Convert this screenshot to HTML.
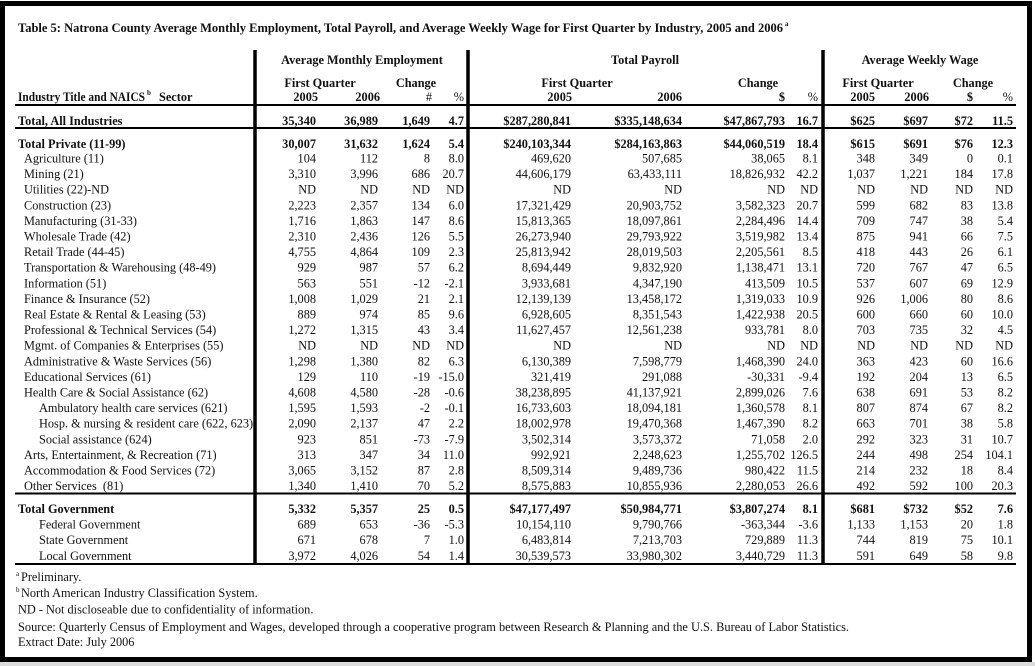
<!DOCTYPE html>
<html><head><meta charset="utf-8"><style>
html,body{margin:0;padding:0;background:#fff;}
svg{display:block;}
text{font-family:"Liberation Serif",serif;font-size:12.3px;fill:#111;}
.b text,.b{font-weight:bold;}
.e{text-anchor:end;}
.m{text-anchor:middle;}
</style></head><body>
<svg width="1035" height="666" viewBox="0 0 1035 666" xmlns="http://www.w3.org/2000/svg">
<rect x="0" y="0" width="1035" height="666" fill="#fff"/>
<rect x="0" y="662" width="1035" height="4" fill="#dcdcdc"/>
<rect x="2.5" y="3.5" width="1027" height="656" fill="none" stroke="#000" stroke-width="5"/>

<text x="18" y="32" font-weight="bold" textLength="765" lengthAdjust="spacingAndGlyphs">Table 5: Natrona County Average Monthly Employment, Total Payroll, and Average Weekly Wage for First Quarter by Industry, 2005 and 2006</text>
<text x="785" y="26" font-weight="bold" style="font-size:7px">a</text>

<!-- lines -->
<g stroke="#000">
<line x1="15" y1="105" x2="1016" y2="105" stroke-width="2"/>
<line x1="15" y1="128" x2="1016" y2="128" stroke-width="2"/>
<line x1="15" y1="493.5" x2="1016" y2="493.5" stroke-width="2"/>
<line x1="15" y1="564" x2="1016" y2="564" stroke-width="2"/>
<line x1="255" y1="50" x2="255" y2="565" stroke-width="3.5"/>
<line x1="468" y1="50" x2="468" y2="565" stroke-width="3.5"/>
<line x1="823" y1="50" x2="823" y2="565" stroke-width="3.5"/>
</g>

<!-- headers -->
<g class="b">
<text x="362" y="64" class="m">Average Monthly Employment</text>
<text x="645" y="64" class="m">Total Payroll</text>
<text x="920" y="64" class="m">Average Weekly Wage</text>
<text x="320" y="87" class="m">First Quarter</text>
<text x="416" y="87" class="m">Change</text>
<text x="577" y="87" class="m">First Quarter</text>
<text x="758" y="87" class="m">Change</text>
<text x="878" y="87" class="m">First Quarter</text>
<text x="973" y="87" class="m">Change</text>
<text x="18" y="101" textLength="127" lengthAdjust="spacingAndGlyphs">Industry Title and NAICS</text>
<text x="147" y="95" style="font-size:7px">b</text>
<text x="159" y="101">Sector</text>
<text x="318" y="101" class="e">2005</text>
<text x="380" y="101" class="e">2006</text>
<text x="432" y="101" class="e" style="font-weight:normal">#</text>
<text x="464" y="101" class="e" style="font-weight:normal">%</text>
<text x="572" y="101" class="e">2005</text>
<text x="682" y="101" class="e">2006</text>
<text x="785" y="101" class="e">$</text>
<text x="818" y="101" class="e" style="font-weight:normal">%</text>
<text x="875" y="101" class="e">2005</text>
<text x="929" y="101" class="e">2006</text>
<text x="973" y="101" class="e">$</text>
<text x="1013" y="101" class="e" style="font-weight:normal">%</text>
</g>

<!-- Total all industries -->
<g class="b" transform="translate(0,125)">
<text x="18">Total, All Industries</text>
<text x="316" class="e">35,340</text><text x="378" class="e">36,989</text><text x="430" class="e">1,649</text><text x="464" class="e">4.7</text>
<text x="571" class="e">$287,280,841</text><text x="682" class="e">$335,148,634</text><text x="785" class="e">$47,867,793</text><text x="818" class="e">16.7</text>
<text x="875" class="e">$625</text><text x="928" class="e">$697</text><text x="973" class="e">$72</text><text x="1013" class="e">11.5</text>
</g>

<!-- Total private -->
<g class="b" transform="translate(0,148)">
<text x="18">Total Private (11-99)</text>
<text x="316" class="e">30,007</text><text x="378" class="e">31,632</text><text x="430" class="e">1,624</text><text x="464" class="e">5.4</text>
<text x="571" class="e">$240,103,344</text><text x="682" class="e">$284,163,863</text><text x="785" class="e">$44,060,519</text><text x="818" class="e">18.4</text>
<text x="875" class="e">$615</text><text x="928" class="e">$691</text><text x="973" class="e">$76</text><text x="1013" class="e">12.3</text>
</g>

<g transform="translate(0,162.5)"><text x="24">Agriculture (11)</text>
<text x="316" class="e">104</text><text x="378" class="e">112</text><text x="430" class="e">8</text><text x="464" class="e">8.0</text>
<text x="571" class="e">469,620</text><text x="682" class="e">507,685</text><text x="785" class="e">38,065</text><text x="818" class="e">8.1</text>
<text x="875" class="e">348</text><text x="928" class="e">349</text><text x="973" class="e">0</text><text x="1013" class="e">0.1</text></g>

<g transform="translate(0,178.1)"><text x="24">Mining (21)</text>
<text x="316" class="e">3,310</text><text x="378" class="e">3,996</text><text x="430" class="e">686</text><text x="464" class="e">20.7</text>
<text x="571" class="e">44,606,179</text><text x="682" class="e">63,433,111</text><text x="785" class="e">18,826,932</text><text x="818" class="e">42.2</text>
<text x="875" class="e">1,037</text><text x="928" class="e">1,221</text><text x="973" class="e">184</text><text x="1013" class="e">17.8</text></g>

<g transform="translate(0,193.7)"><text x="24">Utilities (22)-ND</text>
<text x="316" class="e">ND</text><text x="378" class="e">ND</text><text x="430" class="e">ND</text><text x="464" class="e">ND</text>
<text x="571" class="e">ND</text><text x="682" class="e">ND</text><text x="785" class="e">ND</text><text x="818" class="e">ND</text>
<text x="875" class="e">ND</text><text x="928" class="e">ND</text><text x="973" class="e">ND</text><text x="1013" class="e">ND</text></g>

<g transform="translate(0,209.3)"><text x="24">Construction (23)</text>
<text x="316" class="e">2,223</text><text x="378" class="e">2,357</text><text x="430" class="e">134</text><text x="464" class="e">6.0</text>
<text x="571" class="e">17,321,429</text><text x="682" class="e">20,903,752</text><text x="785" class="e">3,582,323</text><text x="818" class="e">20.7</text>
<text x="875" class="e">599</text><text x="928" class="e">682</text><text x="973" class="e">83</text><text x="1013" class="e">13.8</text></g>

<g transform="translate(0,224.9)"><text x="24">Manufacturing (31-33)</text>
<text x="316" class="e">1,716</text><text x="378" class="e">1,863</text><text x="430" class="e">147</text><text x="464" class="e">8.6</text>
<text x="571" class="e">15,813,365</text><text x="682" class="e">18,097,861</text><text x="785" class="e">2,284,496</text><text x="818" class="e">14.4</text>
<text x="875" class="e">709</text><text x="928" class="e">747</text><text x="973" class="e">38</text><text x="1013" class="e">5.4</text></g>

<g transform="translate(0,240.5)"><text x="24">Wholesale Trade (42)</text>
<text x="316" class="e">2,310</text><text x="378" class="e">2,436</text><text x="430" class="e">126</text><text x="464" class="e">5.5</text>
<text x="571" class="e">26,273,940</text><text x="682" class="e">29,793,922</text><text x="785" class="e">3,519,982</text><text x="818" class="e">13.4</text>
<text x="875" class="e">875</text><text x="928" class="e">941</text><text x="973" class="e">66</text><text x="1013" class="e">7.5</text></g>

<g transform="translate(0,256.1)"><text x="24">Retail Trade (44-45)</text>
<text x="316" class="e">4,755</text><text x="378" class="e">4,864</text><text x="430" class="e">109</text><text x="464" class="e">2.3</text>
<text x="571" class="e">25,813,942</text><text x="682" class="e">28,019,503</text><text x="785" class="e">2,205,561</text><text x="818" class="e">8.5</text>
<text x="875" class="e">418</text><text x="928" class="e">443</text><text x="973" class="e">26</text><text x="1013" class="e">6.1</text></g>

<g transform="translate(0,271.7)"><text x="24">Transportation &amp; Warehousing (48-49)</text>
<text x="316" class="e">929</text><text x="378" class="e">987</text><text x="430" class="e">57</text><text x="464" class="e">6.2</text>
<text x="571" class="e">8,694,449</text><text x="682" class="e">9,832,920</text><text x="785" class="e">1,138,471</text><text x="818" class="e">13.1</text>
<text x="875" class="e">720</text><text x="928" class="e">767</text><text x="973" class="e">47</text><text x="1013" class="e">6.5</text></g>

<g transform="translate(0,287.3)"><text x="24">Information (51)</text>
<text x="316" class="e">563</text><text x="378" class="e">551</text><text x="430" class="e">-12</text><text x="464" class="e">-2.1</text>
<text x="571" class="e">3,933,681</text><text x="682" class="e">4,347,190</text><text x="785" class="e">413,509</text><text x="818" class="e">10.5</text>
<text x="875" class="e">537</text><text x="928" class="e">607</text><text x="973" class="e">69</text><text x="1013" class="e">12.9</text></g>

<g transform="translate(0,302.9)"><text x="24">Finance &amp; Insurance (52)</text>
<text x="316" class="e">1,008</text><text x="378" class="e">1,029</text><text x="430" class="e">21</text><text x="464" class="e">2.1</text>
<text x="571" class="e">12,139,139</text><text x="682" class="e">13,458,172</text><text x="785" class="e">1,319,033</text><text x="818" class="e">10.9</text>
<text x="875" class="e">926</text><text x="928" class="e">1,006</text><text x="973" class="e">80</text><text x="1013" class="e">8.6</text></g>

<g transform="translate(0,318.5)"><text x="24">Real Estate &amp; Rental &amp; Leasing (53)</text>
<text x="316" class="e">889</text><text x="378" class="e">974</text><text x="430" class="e">85</text><text x="464" class="e">9.6</text>
<text x="571" class="e">6,928,605</text><text x="682" class="e">8,351,543</text><text x="785" class="e">1,422,938</text><text x="818" class="e">20.5</text>
<text x="875" class="e">600</text><text x="928" class="e">660</text><text x="973" class="e">60</text><text x="1013" class="e">10.0</text></g>

<g transform="translate(0,334.1)"><text x="24">Professional &amp; Technical Services (54)</text>
<text x="316" class="e">1,272</text><text x="378" class="e">1,315</text><text x="430" class="e">43</text><text x="464" class="e">3.4</text>
<text x="571" class="e">11,627,457</text><text x="682" class="e">12,561,238</text><text x="785" class="e">933,781</text><text x="818" class="e">8.0</text>
<text x="875" class="e">703</text><text x="928" class="e">735</text><text x="973" class="e">32</text><text x="1013" class="e">4.5</text></g>

<g transform="translate(0,349.7)"><text x="24">Mgmt. of Companies &amp; Enterprises (55)</text>
<text x="316" class="e">ND</text><text x="378" class="e">ND</text><text x="430" class="e">ND</text><text x="464" class="e">ND</text>
<text x="571" class="e">ND</text><text x="682" class="e">ND</text><text x="785" class="e">ND</text><text x="818" class="e">ND</text>
<text x="875" class="e">ND</text><text x="928" class="e">ND</text><text x="973" class="e">ND</text><text x="1013" class="e">ND</text></g>

<g transform="translate(0,365.3)"><text x="24">Administrative &amp; Waste Services (56)</text>
<text x="316" class="e">1,298</text><text x="378" class="e">1,380</text><text x="430" class="e">82</text><text x="464" class="e">6.3</text>
<text x="571" class="e">6,130,389</text><text x="682" class="e">7,598,779</text><text x="785" class="e">1,468,390</text><text x="818" class="e">24.0</text>
<text x="875" class="e">363</text><text x="928" class="e">423</text><text x="973" class="e">60</text><text x="1013" class="e">16.6</text></g>

<g transform="translate(0,380.9)"><text x="24">Educational Services (61)</text>
<text x="316" class="e">129</text><text x="378" class="e">110</text><text x="430" class="e">-19</text><text x="464" class="e">-15.0</text>
<text x="571" class="e">321,419</text><text x="682" class="e">291,088</text><text x="785" class="e">-30,331</text><text x="818" class="e">-9.4</text>
<text x="875" class="e">192</text><text x="928" class="e">204</text><text x="973" class="e">13</text><text x="1013" class="e">6.5</text></g>

<g transform="translate(0,396.5)"><text x="24">Health Care &amp; Social Assistance (62)</text>
<text x="316" class="e">4,608</text><text x="378" class="e">4,580</text><text x="430" class="e">-28</text><text x="464" class="e">-0.6</text>
<text x="571" class="e">38,238,895</text><text x="682" class="e">41,137,921</text><text x="785" class="e">2,899,026</text><text x="818" class="e">7.6</text>
<text x="875" class="e">638</text><text x="928" class="e">691</text><text x="973" class="e">53</text><text x="1013" class="e">8.2</text></g>

<g transform="translate(0,412.1)"><text x="39">Ambulatory health care services (621)</text>
<text x="316" class="e">1,595</text><text x="378" class="e">1,593</text><text x="430" class="e">-2</text><text x="464" class="e">-0.1</text>
<text x="571" class="e">16,733,603</text><text x="682" class="e">18,094,181</text><text x="785" class="e">1,360,578</text><text x="818" class="e">8.1</text>
<text x="875" class="e">807</text><text x="928" class="e">874</text><text x="973" class="e">67</text><text x="1013" class="e">8.2</text></g>

<g transform="translate(0,427.7)"><text x="39">Hosp. &amp; nursing &amp; resident care (622, 623)</text>
<text x="316" class="e">2,090</text><text x="378" class="e">2,137</text><text x="430" class="e">47</text><text x="464" class="e">2.2</text>
<text x="571" class="e">18,002,978</text><text x="682" class="e">19,470,368</text><text x="785" class="e">1,467,390</text><text x="818" class="e">8.2</text>
<text x="875" class="e">663</text><text x="928" class="e">701</text><text x="973" class="e">38</text><text x="1013" class="e">5.8</text></g>

<g transform="translate(0,443.3)"><text x="39">Social assistance (624)</text>
<text x="316" class="e">923</text><text x="378" class="e">851</text><text x="430" class="e">-73</text><text x="464" class="e">-7.9</text>
<text x="571" class="e">3,502,314</text><text x="682" class="e">3,573,372</text><text x="785" class="e">71,058</text><text x="818" class="e">2.0</text>
<text x="875" class="e">292</text><text x="928" class="e">323</text><text x="973" class="e">31</text><text x="1013" class="e">10.7</text></g>

<g transform="translate(0,458.9)"><text x="24">Arts, Entertainment, &amp; Recreation (71)</text>
<text x="316" class="e">313</text><text x="378" class="e">347</text><text x="430" class="e">34</text><text x="464" class="e">11.0</text>
<text x="571" class="e">992,921</text><text x="682" class="e">2,248,623</text><text x="785" class="e">1,255,702</text><text x="818" class="e">126.5</text>
<text x="875" class="e">244</text><text x="928" class="e">498</text><text x="973" class="e">254</text><text x="1013" class="e">104.1</text></g>

<g transform="translate(0,474.5)"><text x="24">Accommodation &amp; Food Services (72)</text>
<text x="316" class="e">3,065</text><text x="378" class="e">3,152</text><text x="430" class="e">87</text><text x="464" class="e">2.8</text>
<text x="571" class="e">8,509,314</text><text x="682" class="e">9,489,736</text><text x="785" class="e">980,422</text><text x="818" class="e">11.5</text>
<text x="875" class="e">214</text><text x="928" class="e">232</text><text x="973" class="e">18</text><text x="1013" class="e">8.4</text></g>

<g transform="translate(0,490.1)"><text x="24" xml:space="preserve">Other Services  (81)</text>
<text x="316" class="e">1,340</text><text x="378" class="e">1,410</text><text x="430" class="e">70</text><text x="464" class="e">5.2</text>
<text x="571" class="e">8,575,883</text><text x="682" class="e">10,855,936</text><text x="785" class="e">2,280,053</text><text x="818" class="e">26.6</text>
<text x="875" class="e">492</text><text x="928" class="e">592</text><text x="973" class="e">100</text><text x="1013" class="e">20.3</text></g>

<!-- Government -->
<g class="b" transform="translate(0,513)">
<text x="18">Total Government</text>
<text x="316" class="e">5,332</text><text x="378" class="e">5,357</text><text x="430" class="e">25</text><text x="464" class="e">0.5</text>
<text x="571" class="e">$47,177,497</text><text x="682" class="e">$50,984,771</text><text x="785" class="e">$3,807,274</text><text x="818" class="e">8.1</text>
<text x="875" class="e">$681</text><text x="928" class="e">$732</text><text x="973" class="e">$52</text><text x="1013" class="e">7.6</text>
</g>

<g transform="translate(0,528.6)"><text x="39">Federal Government</text>
<text x="316" class="e">689</text><text x="378" class="e">653</text><text x="430" class="e">-36</text><text x="464" class="e">-5.3</text>
<text x="571" class="e">10,154,110</text><text x="682" class="e">9,790,766</text><text x="785" class="e">-363,344</text><text x="818" class="e">-3.6</text>
<text x="875" class="e">1,133</text><text x="928" class="e">1,153</text><text x="973" class="e">20</text><text x="1013" class="e">1.8</text></g>

<g transform="translate(0,544.2)"><text x="39">State Government</text>
<text x="316" class="e">671</text><text x="378" class="e">678</text><text x="430" class="e">7</text><text x="464" class="e">1.0</text>
<text x="571" class="e">6,483,814</text><text x="682" class="e">7,213,703</text><text x="785" class="e">729,889</text><text x="818" class="e">11.3</text>
<text x="875" class="e">744</text><text x="928" class="e">819</text><text x="973" class="e">75</text><text x="1013" class="e">10.1</text></g>

<g transform="translate(0,559.8)"><text x="39">Local Government</text>
<text x="316" class="e">3,972</text><text x="378" class="e">4,026</text><text x="430" class="e">54</text><text x="464" class="e">1.4</text>
<text x="571" class="e">30,539,573</text><text x="682" class="e">33,980,302</text><text x="785" class="e">3,440,729</text><text x="818" class="e">11.3</text>
<text x="875" class="e">591</text><text x="928" class="e">649</text><text x="973" class="e">58</text><text x="1013" class="e">9.8</text></g>

<!-- footnotes -->
<text x="16" y="576" style="font-size:7px">a</text>
<text x="21" y="581">Preliminary.</text>
<text x="16" y="592" style="font-size:7px">b</text>
<text x="21" y="597">North American Industry Classification System.</text>
<text x="18" y="613.5">ND - Not discloseable due to confidentiality of information.</text>
<text x="18" y="631" textLength="831" lengthAdjust="spacingAndGlyphs">Source: Quarterly Census of Employment and Wages, developed through a cooperative program between Research &amp; Planning and the U.S. Bureau of Labor Statistics.</text>
<text x="18" y="646">Extract Date: July 2006</text>
</svg>
</body></html>
